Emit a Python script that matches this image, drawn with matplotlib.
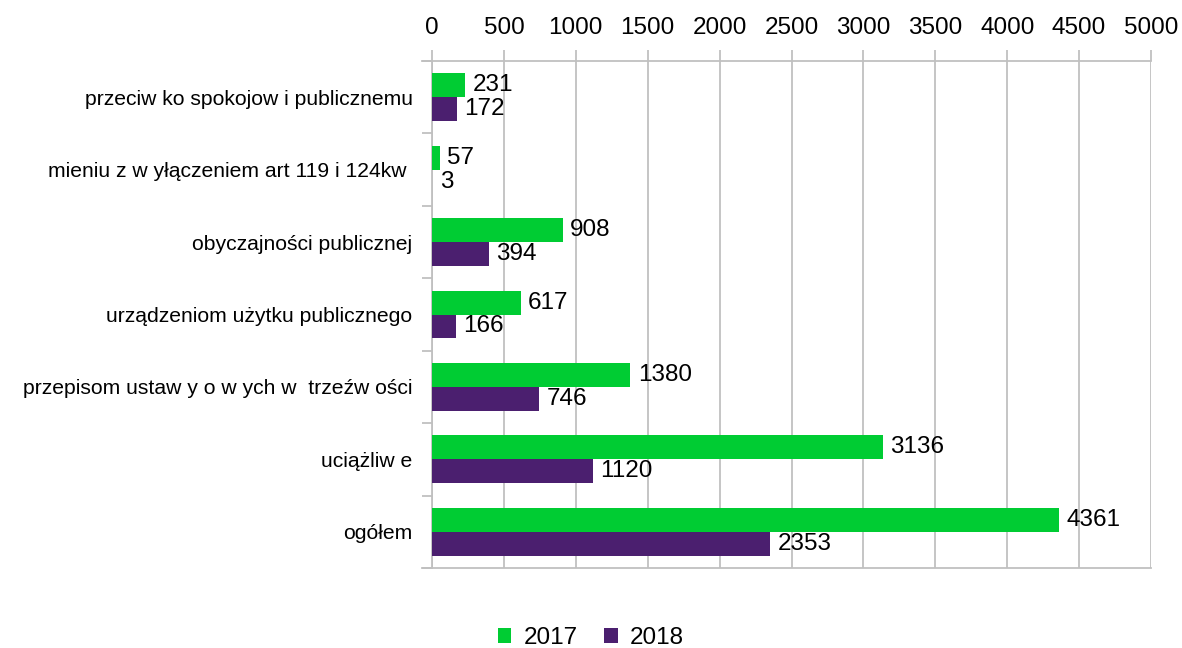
import matplotlib.pyplot as plt
import numpy as np

plt.rcParams['font.family'] = ['Liberation Sans', 'DejaVu Sans']

categories = [
    "przeciw ko spokojow i publicznemu",
    "mieniu z w yłączeniem art 119 i 124kw ",
    "obyczajności publicznej",
    "urządzeniom użytku publicznego",
    "przepisom ustaw y o w ych w  trzeźw ości",
    "uciążliw e",
    "ogółem",
]
values_2017 = [231, 57, 908, 617, 1380, 3136, 4361]
values_2018 = [172, 3, 394, 166, 746, 1120, 2353]
xticks = [0, 500, 1000, 1500, 2000, 2500, 3000, 3500, 4000, 4500, 5000]

green = "#00cc33"
purple = "#4b1f6f"
grid_col = "#c0c0c0"

fig = plt.figure(figsize=(11.82, 6.48), dpi=100)
ax = fig.add_axes([432 / 1182, 1 - 568 / 648, (1151 - 432) / 1182, (568 - 61) / 648])

n = len(categories)
pos = np.arange(n)
h = 0.33
b1 = ax.barh(pos - h / 2, values_2017, height=h, color=green, label="2017", zorder=3)
b2 = ax.barh(pos + h / 2, values_2018, height=h, color=purple, label="2018", zorder=3)

for bars, vals in ((b1, values_2017), (b2, values_2018)):
    for bar, v in zip(bars, vals):
        ax.text(bar.get_width() + 50, bar.get_y() + bar.get_height() / 2, str(v),
                va="center", ha="left", fontsize=17.5, zorder=4)

ax.set_xlim(0, 5000)
ax.set_ylim(n - 0.5, -0.5)
ax.set_xticks(xticks)
ax.xaxis.tick_top()
ax.tick_params(axis="x", length=8, width=1.3, color=grid_col, labelsize=17.5, pad=8)
ax.grid(axis="x", color=grid_col, linewidth=1.3, zorder=0)

# category separators as minor ticks on the left
ax.set_yticks(pos)
ax.set_yticklabels(categories, fontsize=15.2)
ax.set_yticks(np.arange(n + 1) - 0.5, minor=True)
ax.tick_params(axis="y", which="major", length=0, pad=14)
ax.tick_params(axis="y", which="minor", length=7.5, width=1.3, color=grid_col)

for s in ("left", "top", "bottom"):
    ax.spines[s].set_color(grid_col)
    ax.spines[s].set_linewidth(1.3)
ax.spines["right"].set_visible(False)

# top and bottom lines extend a bit to the left
for yv in (-0.5, n - 0.5):
    ax.plot([-70, 0], [yv, yv], color=grid_col, linewidth=1.3, clip_on=False)

fig.legend(handles=[b1, b2], loc="center", bbox_to_anchor=(0.5, 1 - 638 / 648), ncol=2,
           frameon=False, fontsize=17.5, handlelength=0.55, handleheight=0.55,
           handletextpad=0.5, columnspacing=1.1)

fig.savefig("out.png", dpi=100)
